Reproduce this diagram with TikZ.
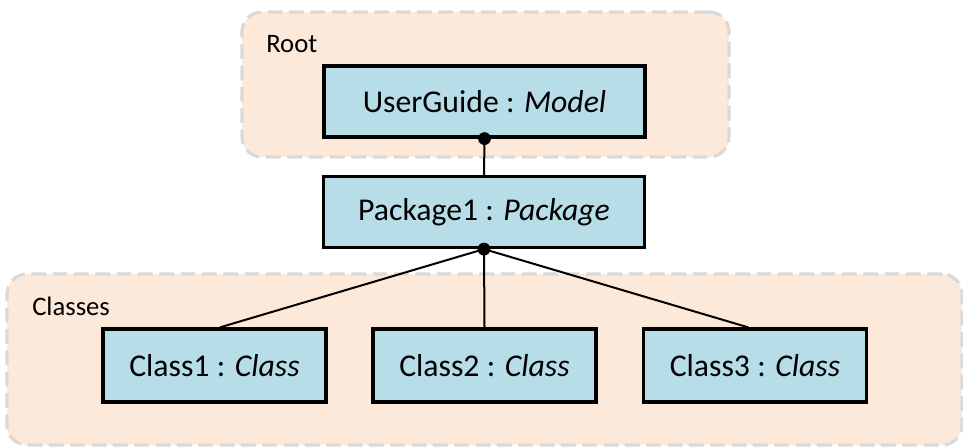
\documentclass[tikz,border=0pt]{standalone}
\usepackage{fontspec}
\setmainfont{Carlito}
\definecolor{boxfill}{HTML}{B7DDE8}
\definecolor{grpfill}{HTML}{FDE9D9}
\definecolor{grpline}{HTML}{D9D9D9}
\begin{document}
\begin{tikzpicture}[x=0.75pt,y=-0.75pt,
  grp/.style={draw=grpline,fill=grpfill,line width=2.4pt,rounded corners=15pt,dash pattern=on 11pt off 5pt,inner sep=0pt},
  obj/.style={draw=black,fill=boxfill,line width=2.4pt,inner sep=0pt,font=\fontsize{23.8}{28}\selectfont},
  bigobj/.style={obj,minimum width=240.75pt,minimum height=53.25pt},
  clsobj/.style={obj,minimum width=167.25pt,minimum height=54.75pt},
  grplabel/.style={anchor=base west,inner sep=0pt,font=\fontsize{20}{24}\selectfont},
  conn/.style={line width=1.5pt},
  dotc/.style={fill=black,draw=none}]
\useasboundingbox (0,0) rectangle (963,447);
\node[grp,minimum width=365.25pt,minimum height=108.75pt] (root) at (485.5,84.5) {};
\node[grp,minimum width=716.25pt,minimum height=128.25pt] (classes) at (484.5,359.5) {};
\node[grplabel] (rootlbl) at (266,52) {Root};
\node[grplabel] (classeslbl) at (32,315) {Classes};
\node[bigobj] (ug) at (484.5,101.5) {UserGuide : \textit{Model}};
\node[bigobj] (pkg) at (484,212) {Package1 : \textit{Package}};
\node[clsobj] (c1) at (214.5,365.5) {Class1 : \textit{Class}};
\node[clsobj] (c2) at (484.5,365.5) {Class2 : \textit{Class}};
\node[clsobj] (c3) at (755,365.5) {Class3 : \textit{Class}};
\draw[conn] (ug.south) -- (pkg.north);
\draw[conn] (pkg.south) -- ([xshift=4pt]c1.north);
\draw[conn] (pkg.south) -- (c2.north);
\draw[conn] (pkg.south) -- ([xshift=-5pt]c3.north);
\fill[dotc] (ug.south) circle (4.8pt);
\fill[dotc] (pkg.south) circle (4.8pt);
\end{tikzpicture}
\end{document}
